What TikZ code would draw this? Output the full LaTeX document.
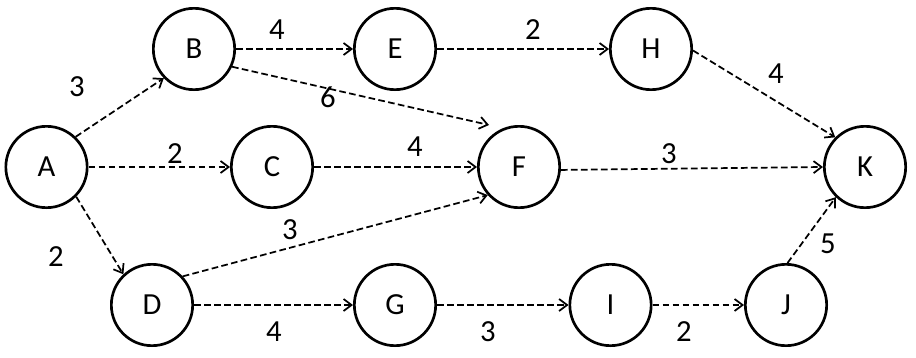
\documentclass[tikz,border=0pt]{standalone}
\usepackage{fontspec}
\setmainfont{Carlito}
\usetikzlibrary{arrows.meta,calc}
\begin{document}
\begin{tikzpicture}[x=0.75pt,y=-0.75pt,
  state/.style={circle,draw,line width=2pt,minimum size=61pt,inner sep=0pt,font=\fontsize{23}{23}\selectfont},
  edge/.style={-{Straight Barb[length=6pt,width=9pt]},line width=1.3pt,dash pattern=on 5pt off 2.5pt},
  wt/.style={inner sep=0pt,font=\fontsize{23}{23}\selectfont}]
\useasboundingbox (0,0) rectangle (916,357);
% nodes
\node[state] (A) at (46.5,167) {A};
\node[state] (B) at (194,49) {B};
\node[state] (E) at (395,49) {E};
\node[state] (H) at (651,49) {H};
\node[state] (C) at (272,167) {C};
\node[state] (F) at (519,167) {F};
\node[state] (K) at (865,167) {K};
\node[state] (D) at (152,305) {D};
\node[state] (G) at (395,305) {G};
\node[state] (I) at (610.5,305) {I};
\node[state] (J) at (786,305) {J};
% edges
\draw[edge] (A.46) -- (B.224);
\draw[edge] (A.0) -- (C.180);
\draw[edge] (A.-45) -- (D.133);
\draw[edge] (B.0) -- (E.180);
\draw[edge] (B.-25) -- ($(F.center)+(-30,-42)$);
\draw[edge] (E.0) -- (H.180);
\draw[edge] (C.0) -- (F.180);
\draw[edge] (D.43) -- (F.222);
\draw[edge] (F.-4) -- (K.180);
\draw[edge] (H.-2) -- (K.135);
\draw[edge] (D.0) -- (G.180);
\draw[edge] (G.0) -- (I.180);
\draw[edge] (I.0) -- (J.180);
\draw[edge] (J.88) -- (K.226);
% weights
\node[wt] (wAB) at (77,87) {3};
\node[wt] (wAC) at (175,154) {2};
\node[wt] (wAD) at (56,257) {2};
\node[wt] (wBE) at (277,30) {4};
\node[wt] (wEH) at (533,30) {2};
\node[wt] (wBF) at (328,97) {6};
\node[wt] (wCF) at (415,147) {4};
\node[wt] (wHK) at (776,74) {4};
\node[wt] (wFK) at (669,154) {3};
\node[wt] (wJK) at (828,244) {5};
\node[wt] (wIJ) at (684,332) {2};
\node[wt] (wGI) at (488,332) {3};
\node[wt] (wDG) at (274,332) {4};
\node[wt] (wDF) at (290,230) {3};
\end{tikzpicture}
\end{document}
